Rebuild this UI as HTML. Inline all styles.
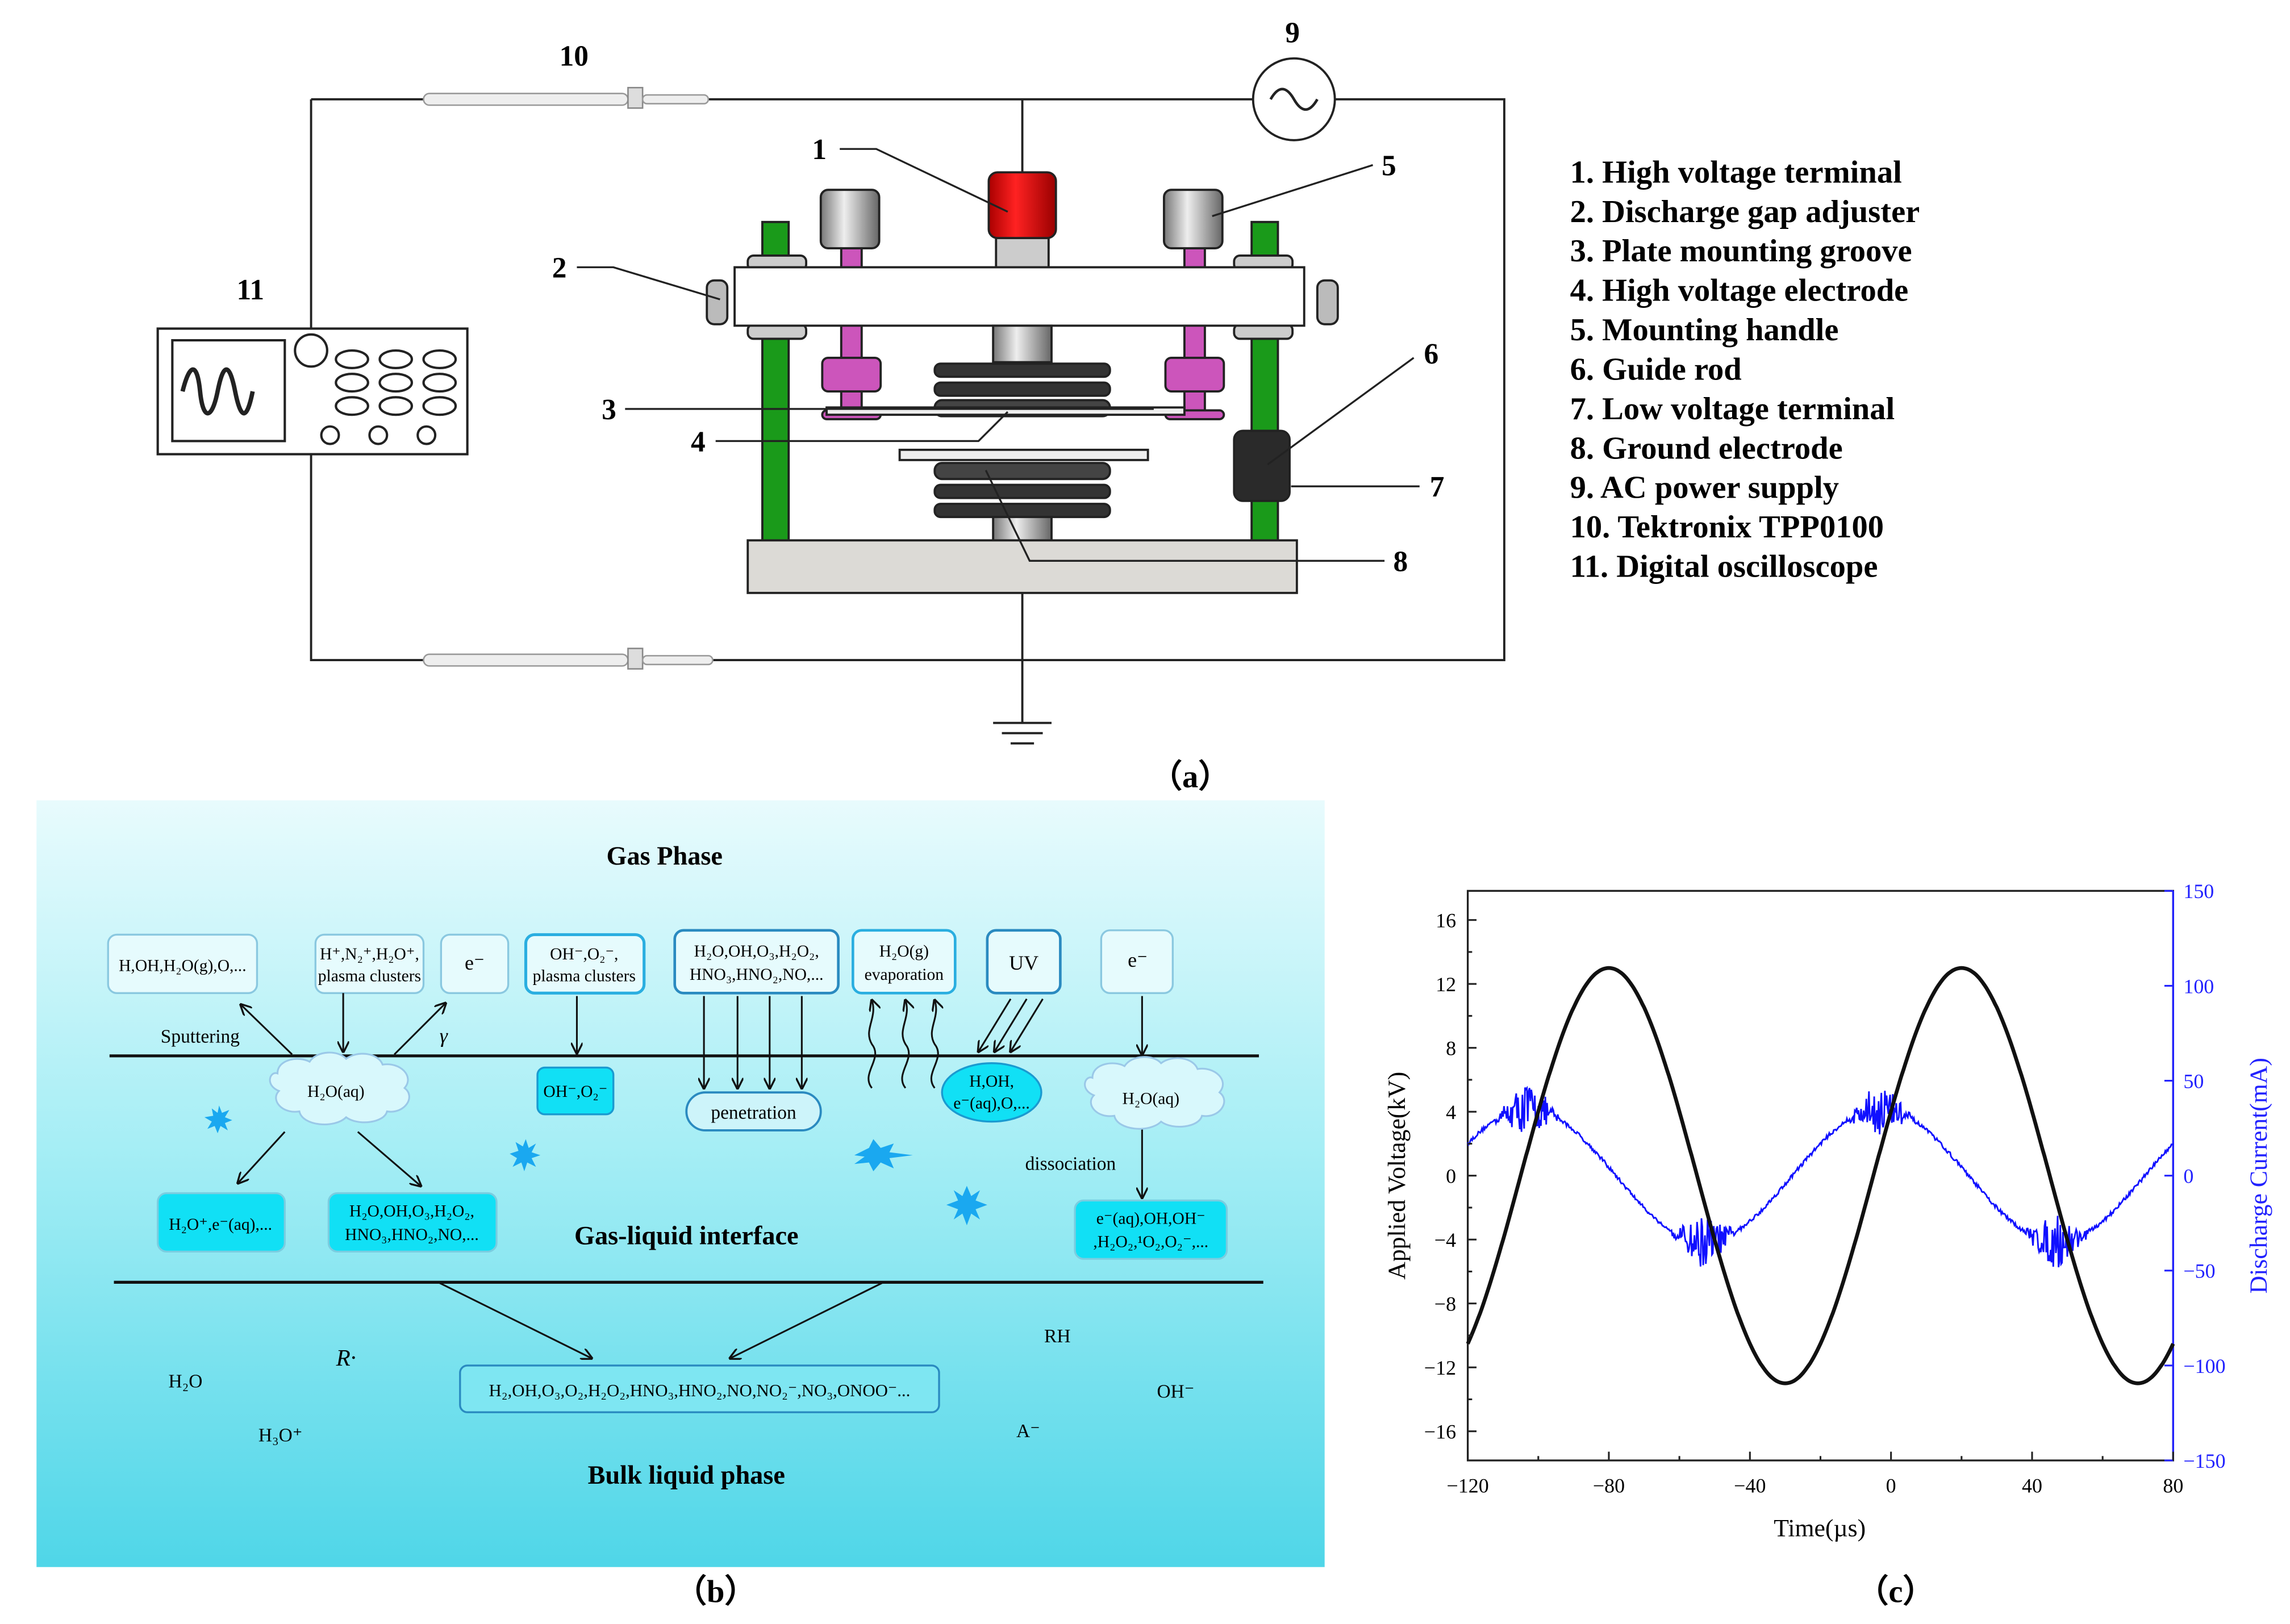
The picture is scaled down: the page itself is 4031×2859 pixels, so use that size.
<!DOCTYPE html>
<html><head><meta charset="utf-8"><style>
html,body{margin:0;padding:0;background:#fff;}
svg{display:block;}
text{font-family:"Liberation Serif",serif;}
.lg{font-size:22px;font-weight:bold;}
.nm{font-size:20px;font-weight:bold;}
.s{font-size:11.5px;}
.b{font-size:18px;font-weight:bold;}
.t{font-size:14px;}
</style></head><body>
<svg id="sv" width="4031" height="2859" viewBox="0 0 1568 1112" preserveAspectRatio="none" xmlns="http://www.w3.org/2000/svg">
<defs>
<linearGradient id="bg" x1="0" y1="0" x2="0" y2="1">
<stop offset="0" stop-color="#e8fbfd"/><stop offset="0.45" stop-color="#a6eef5"/><stop offset="1" stop-color="#4fd6e8"/>
</linearGradient>
<linearGradient id="cyl" x1="0" y1="0" x2="1" y2="0">
<stop offset="0" stop-color="#777"/><stop offset="0.4" stop-color="#eee"/><stop offset="1" stop-color="#666"/>
</linearGradient>
<linearGradient id="red" x1="0" y1="0" x2="1" y2="0">
<stop offset="0" stop-color="#a00"/><stop offset="0.4" stop-color="#f22"/><stop offset="1" stop-color="#900"/>
</linearGradient>
<marker id="ar" markerWidth="8" markerHeight="8" refX="7" refY="4" orient="auto" markerUnits="userSpaceOnUse"><path d="M0,0 L8,4 L0,8" fill="none" stroke="#111" stroke-width="1.3"/></marker>
</defs>

<!-- (a) circuit -->
<g stroke="#222" stroke-width="1.5" fill="none">
<path d="M213,68 H858 M914,68 H1030 V452 H213 V68"/>
<path d="M700,68 V118"/>
<path d="M700,405 V495 M680,495 H720 M686,502 H714 M692,509 H708"/>
<circle cx="886" cy="68" r="28" fill="#fff"/>
<path d="M870,68 q8,-14 16,0 t16,0" stroke-width="1.8"/>
</g>
<!-- probes -->
<g>
<rect x="290" y="64" width="140" height="8" rx="4" fill="#eee" stroke="#999"/>
<rect x="430" y="60" width="10" height="14" fill="#ddd" stroke="#888"/>
<rect x="440" y="65" width="45" height="6" rx="3" fill="#eee" stroke="#999"/>
<rect x="290" y="448" width="140" height="8" rx="4" fill="#eee" stroke="#999"/>
<rect x="430" y="444" width="10" height="14" fill="#ddd" stroke="#888"/>
<rect x="440" y="449" width="48" height="6" rx="3" fill="#eee" stroke="#999"/>
</g>
<!-- oscilloscope -->
<g stroke="#222" stroke-width="1.6" fill="#fff">
<rect x="108" y="225" width="212" height="86"/>
<rect x="118" y="233" width="77" height="69"/>
<circle cx="213" cy="240" r="11"/>
<ellipse cx="241" cy="246" rx="11" ry="6"/><ellipse cx="271" cy="246" rx="11" ry="6"/><ellipse cx="301" cy="246" rx="11" ry="6"/>
<ellipse cx="241" cy="262" rx="11" ry="6"/><ellipse cx="271" cy="262" rx="11" ry="6"/><ellipse cx="301" cy="262" rx="11" ry="6"/>
<ellipse cx="241" cy="278" rx="11" ry="6"/><ellipse cx="271" cy="278" rx="11" ry="6"/><ellipse cx="301" cy="278" rx="11" ry="6"/>
<circle cx="226" cy="298" r="6"/><circle cx="259" cy="298" r="6"/><circle cx="292" cy="298" r="6"/>
<path d="M125,268 c5,-20 10,-20 12,0 s8,20 12,0 s8,-20 12,0 s8,20 12,0" fill="none" stroke-width="3"/>
</g>
<!-- apparatus -->
<g stroke="#222" stroke-width="1.5">
<rect x="522" y="152" width="18" height="220" fill="#1a9a1a"/>
<rect x="857" y="152" width="18" height="220" fill="#1a9a1a"/>
<rect x="512" y="175" width="40" height="10" rx="4" fill="#ccc"/>
<rect x="845" y="175" width="40" height="10" rx="4" fill="#ccc"/>
<rect x="512" y="222" width="40" height="10" rx="4" fill="#ccc"/>
<rect x="845" y="222" width="40" height="10" rx="4" fill="#ccc"/>
<rect x="576" y="168" width="14" height="118" fill="#cc55bb"/>
<rect x="811" y="168" width="14" height="118" fill="#cc55bb"/>
<rect x="563" y="245" width="40" height="23" rx="4" fill="#cc55bb"/>
<rect x="798" y="245" width="40" height="23" rx="4" fill="#cc55bb"/>
<rect x="563" y="281" width="40" height="6" rx="3" fill="#cc55bb"/>
<rect x="798" y="281" width="40" height="6" rx="3" fill="#cc55bb"/>
<rect x="562" y="130" width="40" height="40" rx="5" fill="url(#cyl)"/>
<rect x="797" y="130" width="40" height="40" rx="5" fill="url(#cyl)"/>
<rect x="682" y="158" width="36" height="26" fill="#ccc"/>
<rect x="677" y="118" width="46" height="45" rx="6" fill="url(#red)"/>
<rect x="484" y="192" width="14" height="30" rx="5" fill="#bbb"/>
<rect x="902" y="192" width="14" height="30" rx="5" fill="#bbb"/>
<rect x="503" y="183" width="390" height="40" fill="#fff"/>
<rect x="680" y="223" width="40" height="25" fill="url(#cyl)"/>
<rect x="640" y="249" width="120" height="9" rx="4" fill="#333"/>
<rect x="640" y="262" width="120" height="9" rx="4" fill="#333"/>
<rect x="640" y="274" width="120" height="11" rx="5" fill="#444"/>
<rect x="566" y="279" width="245" height="5" fill="#eee"/>
<rect x="616" y="308" width="170" height="7" fill="#eee"/>
<rect x="640" y="317" width="120" height="11" rx="5" fill="#444"/>
<rect x="640" y="332" width="120" height="9" rx="4" fill="#333"/>
<rect x="640" y="345" width="120" height="9" rx="4" fill="#333"/>
<rect x="680" y="354" width="40" height="17" fill="url(#cyl)"/>
<rect x="845" y="295" width="38" height="48" rx="6" fill="#2a2a2a"/>
<rect x="512" y="370" width="376" height="36" fill="#dcdad6"/>
</g>
<!-- leader lines -->
<g stroke="#222" stroke-width="1.3" fill="none">
<path d="M575,102 H600 L690,145"/>
<path d="M940,113 L830,148"/>
<path d="M395,183 H420 L493,205"/>
<path d="M968,245 L868,318"/>
<path d="M428,280 H790"/>
<path d="M490,302 H670 L690,282"/>
<path d="M972,333 H884"/>
<path d="M948,384 H705 L675,322"/>
</g>
<g class="nm">
<text x="556" y="109">1</text><text x="946" y="120">5</text><text x="378" y="190">2</text>
<text x="975" y="249">6</text><text x="412" y="287">3</text><text x="473" y="309">4</text>
<text x="979" y="340">7</text><text x="954" y="391">8</text>
<text x="880" y="29">9</text><text x="383" y="45">10</text><text x="162" y="205">11</text>
</g>
<g class="lg">
<text x="1075" y="125">1. High voltage terminal</text>
<text x="1075" y="152">2. Discharge gap adjuster</text>
<text x="1075" y="179">3. Plate mounting groove</text>
<text x="1075" y="206">4. High voltage electrode</text>
<text x="1075" y="233">5. Mounting handle</text>
<text x="1075" y="260">6. Guide rod</text>
<text x="1075" y="287">7. Low voltage terminal</text>
<text x="1075" y="314">8. Ground electrode</text>
<text x="1075" y="341">9. AC power supply</text>
<text x="1075" y="368">10. Tektronix TPP0100</text>
<text x="1075" y="395">11. Digital oscilloscope</text>
</g>
<text x="815" y="539" class="lg" text-anchor="middle">（a）</text>

<!-- (b) -->
<rect x="25" y="548" width="882" height="525" fill="url(#bg)"/>
<text x="455" y="592" class="b" text-anchor="middle">Gas Phase</text>
<g fill="#e6fbfd" stroke="#8ac8e0" stroke-width="1.3">
<rect x="74" y="640" width="102" height="40" rx="6"/>
<rect x="216" y="640" width="74" height="40" rx="6"/>
<rect x="302" y="640" width="46" height="40" rx="6"/>
<rect x="360" y="640" width="81" height="40" rx="6" stroke="#2aaee0" stroke-width="2"/>
<rect x="462" y="637" width="112" height="43" rx="6" stroke="#2a8ac0" stroke-width="1.8"/>
<rect x="584" y="637" width="70" height="43" rx="6" stroke="#2aaee0" stroke-width="1.8"/>
<rect x="676" y="637" width="50" height="43" rx="6" stroke="#2a8ac0" stroke-width="1.8"/>
<rect x="754" y="637" width="49" height="43" rx="6"/>
</g>
<g class="s" text-anchor="middle">
<text x="125" y="665">H,OH,H₂O(g),O,...</text>
<text x="253" y="657">H⁺,N₂⁺,H₂O⁺,</text><text x="253" y="672">plasma clusters</text>
<text x="325" y="664" style="font-size:14px">e⁻</text>
<text x="400" y="657">OH⁻,O₂⁻,</text><text x="400" y="672">plasma clusters</text>
<text x="518" y="655">H₂O,OH,O₃,H₂O₂,</text><text x="518" y="671">HNO₃,HNO₂,NO,...</text>
<text x="619" y="655">H₂O(g)</text><text x="619" y="671">evaporation</text>
<text x="701" y="664" style="font-size:14px">UV</text>
<text x="779" y="662" style="font-size:14px">e⁻</text>
</g>
<text x="110" y="714" class="s" style="font-size:13px">Sputtering</text>
<text x="301" y="714" style="font-size:14px;font-style:italic">γ</text>
<g stroke="#111" stroke-width="2"><path d="M75,723 H862"/><path d="M78,878 H865"/></g>
<g stroke="#111" stroke-width="1.2" fill="none" marker-end="url(#ar)">
<path d="M200,722 L165,688"/><path d="M235,680 V720"/><path d="M270,722 L305,687"/>
<path d="M395,682 V721"/>
<path d="M482,682 V745"/><path d="M505,682 V745"/><path d="M527,682 V745"/><path d="M549,682 V745"/>
<path d="M597,745 c-8,-10 8,-20 0,-30 c-6,-10 4,-18 0,-30"/><path d="M620,745 c-8,-10 8,-20 0,-30 c-6,-10 4,-18 0,-30"/><path d="M640,745 c-8,-10 8,-20 0,-30 c-6,-10 4,-18 0,-30"/>
<path d="M692,684 L670,720"/><path d="M703,684 L681,720"/><path d="M714,684 L692,720"/>
<path d="M782,682 V722"/>
<path d="M195,775 L163,810"/><path d="M245,775 L288,812"/>
<path d="M782,772 V820"/>
<path d="M300,878 L405,930"/><path d="M605,878 L500,930"/>
</g>
<g fill="#d8f8fc" stroke="#9ac8e8" stroke-width="1.2">
<path d="M190,735 c0,-10 15,-12 22,-8 c5,-8 20,-8 25,-2 c8,-6 22,-4 25,4 c12,-2 22,8 15,16 c8,6 0,18 -12,16 c-2,8 -20,10 -28,4 c-8,8 -30,6 -32,-4 c-12,2 -20,-8 -14,-14 c-10,-4 -6,-14 -1,-12 z"/>
<path d="M748,738 c0,-10 15,-12 22,-8 c5,-8 20,-8 25,-2 c8,-6 22,-4 25,4 c12,-2 22,8 15,16 c8,6 0,18 -12,16 c-2,8 -20,10 -28,4 c-8,8 -30,6 -32,-4 c-12,2 -20,-8 -14,-14 c-10,-4 -6,-14 -1,-12 z"/>
</g>
<g fill="#11e0f5" stroke="#1a9ad0" stroke-width="1.3">
<rect x="368" y="731" width="52" height="32" rx="5"/>
<ellipse cx="679" cy="748" rx="34" ry="20"/>
<rect x="108" y="817" width="87" height="40" rx="6" stroke="#7acde0"/>
<rect x="225" y="817" width="115" height="40" rx="6" stroke="#7acde0"/>
<rect x="736" y="822" width="104" height="40" rx="6" stroke="#7acde0"/>
</g>
<rect x="470" y="748" width="92" height="26" rx="13" fill="#cdf4fa" stroke="#2a8ac0" stroke-width="1.5"/>
<rect x="315" y="935" width="328" height="32" rx="5" fill="#7ee6f2" stroke="#2a8ac0" stroke-width="1.3"/>
<g class="s" text-anchor="middle">
<text x="230" y="751">H₂O(aq)</text>
<text x="788" y="756">H₂O(aq)</text>
<text x="394" y="751">OH⁻,O₂⁻</text>
<text x="679" y="744">H,OH,</text><text x="679" y="759">e⁻(aq),O,...</text>
<text x="516" y="766" style="font-size:13px">penetration</text>
<text x="151" y="842">H₂O⁺,e⁻(aq),...</text>
<text x="282" y="833">H₂O,OH,O₃,H₂O₂,</text><text x="282" y="849">HNO₃,HNO₂,NO,...</text>
<text x="788" y="838">e⁻(aq),OH,OH⁻</text><text x="788" y="854">,H₂O₂,¹O₂,O₂⁻,...</text>
<text x="479" y="956" style="font-size:12px">H₂,OH,O₃,O₂,H₂O₂,HNO₃,HNO₂,NO,NO₂⁻,NO₃,ONOO⁻...</text>
<text x="733" y="801" style="font-size:13px">dissociation</text>
<text x="127" y="950" style="font-size:13px">H₂O</text>
<text x="237" y="935" style="font-size:16px;font-style:italic">R·</text>
<text x="192" y="987" style="font-size:13px">H₃O⁺</text>
<text x="724" y="919" style="font-size:13px">RH</text>
<text x="805" y="957" style="font-size:13px">OH⁻</text>
<text x="704" y="984" style="font-size:13px">A⁻</text>
</g>
<text x="470" y="852" class="b" text-anchor="middle">Gas-liquid interface</text>
<text x="470" y="1016" class="b" text-anchor="middle">Bulk liquid phase</text>
<g fill="#1aa8f0">
<polygon points="150,757 152,762 157,760 154,765 159,767 154,769 156,774 151,771 149,776 147,771 142,773 145,768 140,765 146,764 145,759 149,762"/>
<polygon points="360,780 362,786 367,783 364,789 370,791 364,793 367,799 361,796 359,802 357,796 351,799 354,793 349,790 355,788 353,782 358,785"/>
<polygon points="585,791 595,786 598,780 603,786 612,783 609,789 625,791 609,793 612,800 603,796 598,802 595,796 585,797 592,792"/>
<polygon points="662,812 665,819 671,815 668,822 676,825 668,828 671,835 665,831 662,839 659,831 653,835 656,828 648,825 656,822 653,815 659,819"/>
</g>
<text x="490" y="1097" class="lg" text-anchor="middle">（b）</text>

<!-- (c) -->
<g id="plot">
<rect x="1005" y="610" width="483" height="390" fill="none" stroke="#222" stroke-width="1.3"/>
<path d="M1488,610 V1000" stroke="#2222ff" stroke-width="1.3"/>
<path id="cur" fill="none" stroke="#1010ff" stroke-width="1.1"/>
<path id="volt" fill="none" stroke="#111" stroke-width="2.6"/>
<g id="ticks" stroke-width="1.2"></g>
<g id="tl" class="t"></g>
</g>
<text x="0" y="0" transform="translate(962,805) rotate(-90)" text-anchor="middle" style="font-size:17px">Applied Voltage(kV)</text>
<text x="0" y="0" transform="translate(1552,805) rotate(-90)" text-anchor="middle" style="font-size:17px;fill:#2222ff">Discharge Current(mA)</text>
<text x="1246" y="1052" text-anchor="middle" style="font-size:17px">Time(µs)</text>
<text x="1298" y="1097" class="lg" text-anchor="middle">（c）</text>
</svg>
<script>
(function(){
var NS="http://www.w3.org/2000/svg";
function X(t){return 1005+(t+120)*2.415;}
function Yv(v){return 805-v*10.94;}
function Yi(i){return 805-i*1.3;}
var d="";
for(var t=-120;t<=80;t+=0.5){d+=(t==-120?"M":"L")+X(t).toFixed(1)+","+Yv(13*Math.sin(2*Math.PI*(t+105)/100)).toFixed(1);}
document.getElementById("volt").setAttribute("d",d);
var s=12345;function r(){s=(s*16807)%2147483647;return s/2147483647-0.5;}
var c="";
for(var t=-120;t<=80;t+=0.25){
 var ph=((t+128)%100+100)%100;
 var base=35*Math.sin(2*Math.PI*ph/100);
 var amp=0;
 var dp=Math.abs(ph-25), dn=Math.abs(ph-75);
 if(dp<10)amp=30*(1-dp/10);
 if(dn<10)amp=30*(1-dn/10);
 var i=base+amp*r()+2*r();
 c+=(c?"L":"M")+X(t).toFixed(1)+","+Yi(i).toFixed(1);
}
document.getElementById("cur").setAttribute("d",c);
var tk=document.getElementById("ticks"),tl=document.getElementById("tl");
function line(x1,y1,x2,y2,col){var l=document.createElementNS(NS,"line");l.setAttribute("x1",x1);l.setAttribute("y1",y1);l.setAttribute("x2",x2);l.setAttribute("y2",y2);l.setAttribute("stroke",col);tk.appendChild(l);}
function txt(x,y,s,a,col){var e=document.createElementNS(NS,"text");e.setAttribute("x",x);e.setAttribute("y",y);e.setAttribute("text-anchor",a);if(col)e.setAttribute("fill",col);e.textContent=s;tl.appendChild(e);}
for(var v=-16;v<=16;v+=4){var y=Yv(v);line(1005,y,1011,y,"#222");txt(997,y+5,(v<0?"\u2212":"")+Math.abs(v),"end");}
for(var v=-14;v<=14;v+=4){var y=Yv(v);line(1005,y,1008,y,"#222");}
for(var i=-150;i<=150;i+=50){var y=Yi(i);line(1482,y,1488,y,"#22f");txt(1495,y+5,(i<0?"\u2212":"")+Math.abs(i),"start","#2222ff");}
for(var t=-120;t<=80;t+=40){var x=X(t);line(x,1000,x,994,"#222");txt(x,1022,(t<0?"\u2212":"")+Math.abs(t),"middle");}
for(var t=-100;t<=80;t+=40){var x=X(t);line(x,1000,x,997,"#222");}
})();
</script>
</body></html>
